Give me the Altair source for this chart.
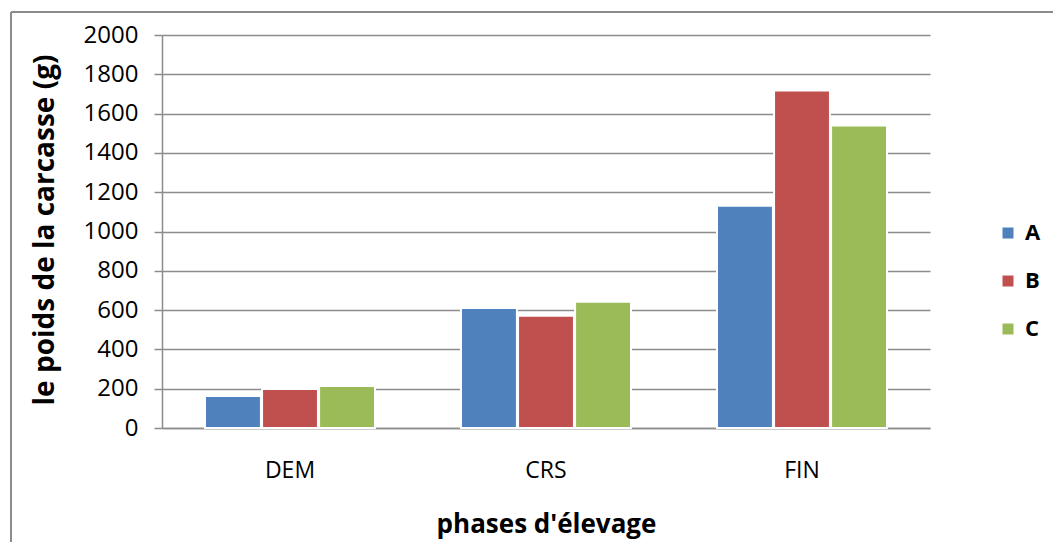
import altair as alt
import pandas as pd

phases = ["DEM", "CRS", "FIN"]
groups = ["A", "B", "C"]
values_A = [163, 611, 1131]
values_B = [199, 571, 1717]
values_C = [214, 642, 1539]
colors = ["#4f81bd", "#c0504d", "#9bbb59"]
y_ticks = [0, 200, 400, 600, 800, 1000, 1200, 1400, 1600, 1800, 2000]

rows = []
for g, vals in zip(groups, [values_A, values_B, values_C]):
    for p, v in zip(phases, vals):
        rows.append({"phase": p, "groupe": g, "poids": v})
df = pd.DataFrame(rows)

FONT = "Open Sans"
GRAY = "#8c8c8c"
W, H = 768, 393

bars = alt.Chart(df).mark_bar(stroke="white", strokeWidth=2).encode(
    x=alt.X("phase:N", sort=phases,
            scale=alt.Scale(paddingInner=0.336, paddingOuter=0.168),
            axis=alt.Axis(title="phases d'élevage", labelAngle=0, ticks=False,
                          labelFontSize=23, labelFont=FONT, labelColor="#000000",
                          labelBaseline="middle", labelPadding=42,
                          domainColor=GRAY, domainWidth=1.5,
                          titleFont=FONT, titleFontSize=26, titleFontWeight="bold",
                          titleColor="#000000", titleY=96, titleBaseline="middle")),
    xOffset=alt.XOffset("groupe:N", sort=groups, scale=alt.Scale(paddingInner=0.02)),
    y=alt.Y("poids:Q",
            scale=alt.Scale(domain=[0, 2000], nice=False),
            axis=alt.Axis(title="le poids de la carcasse (g)", values=y_ticks, format="d",
                          tickSize=8, tickColor=GRAY, tickWidth=1.5,
                          gridColor=GRAY, gridWidth=1.5,
                          domainColor=GRAY, domainWidth=1.5,
                          labelFontSize=24, labelFont=FONT, labelColor="#000000",
                          labelPadding=16,
                          titleFont=FONT, titleFontSize=28, titleFontWeight="bold",
                          titleColor="#000000", titleX=-117, titleY=H / 2 - 2,
                          titleBaseline="middle", titleAngle=-90)),
    color=alt.Color("groupe:N", sort=groups,
                    scale=alt.Scale(domain=groups, range=colors),
                    legend=alt.Legend(title=None, orient="none", legendX=835, legendY=187,
                                      symbolType="square", symbolSize=121,
                                      symbolStrokeWidth=0,
                                      labelFont=FONT, labelFontSize=22,
                                      labelFontWeight="bold", labelColor="#000000",
                                      rowPadding=26, labelOffset=6)),
)

frame_data = alt.Data(values=[{"k": 1}])
frame_left = alt.Chart(frame_data).mark_rule(color=GRAY, strokeWidth=2, clip=False).encode(
    x=alt.value(-151), y=alt.value(-23), y2=alt.value(507))
frame_top = alt.Chart(frame_data).mark_rule(color=GRAY, strokeWidth=2, clip=False).encode(
    x=alt.value(-151), x2=alt.value(891), y=alt.value(-23))

chart = alt.layer(bars, frame_left, frame_top).properties(
    width=W, height=H,
    autosize=alt.AutoSizeParams(type="none"),
    padding={"left": 162, "top": 35, "right": 123, "bottom": 114},
    background="white",
).configure_view(stroke=None)

chart.save("out.html", embed_options={"renderer": "svg", "actions": False})
